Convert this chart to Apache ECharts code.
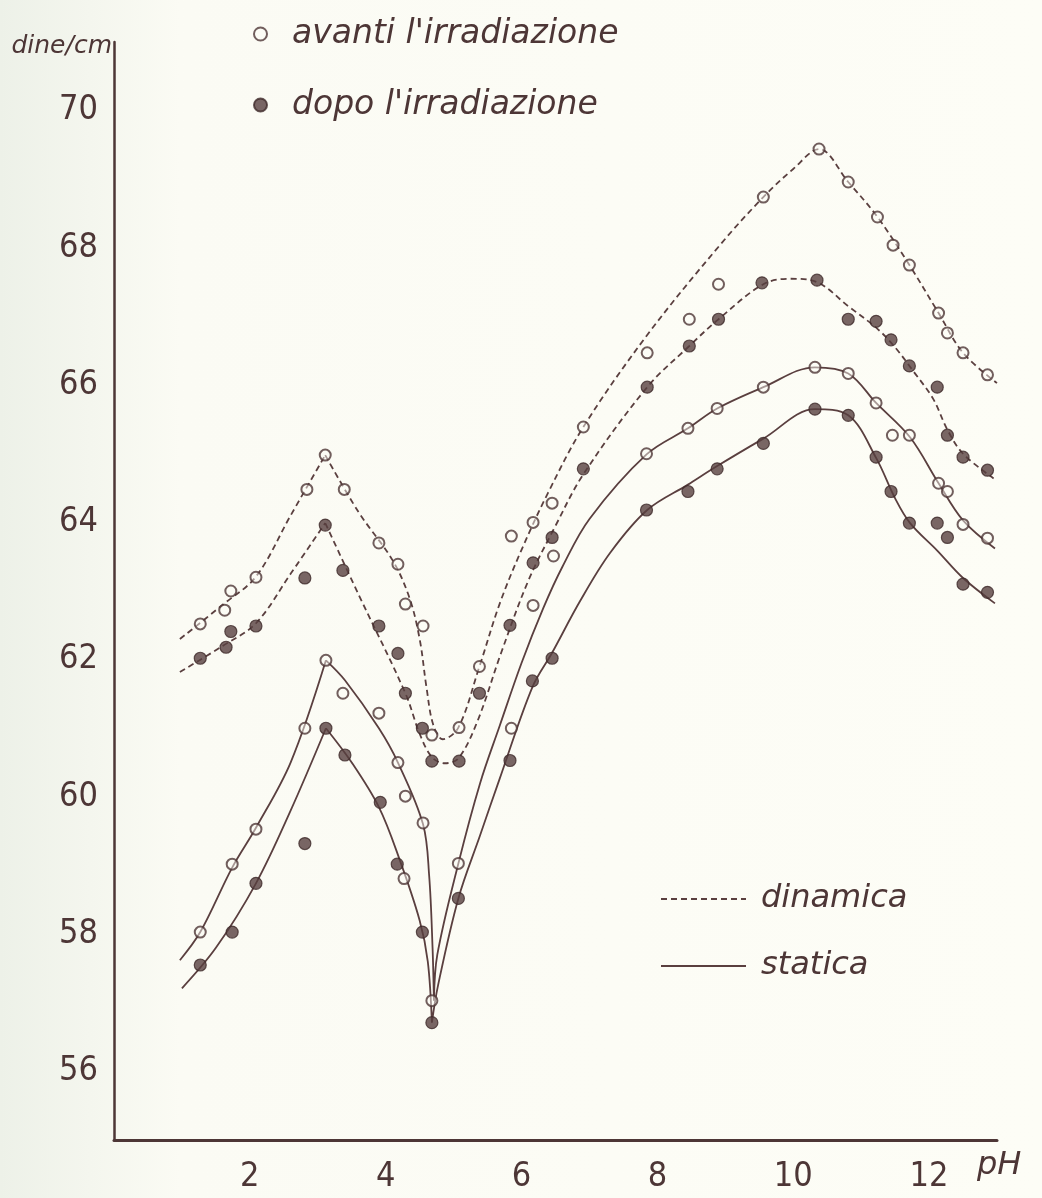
<!DOCTYPE html>
<html>
<head>
<meta charset="utf-8">
<script src="https://cdn.jsdelivr.net/npm/echarts@6/dist/echarts.min.js"></script>
<style>
  html, body { margin: 0; padding: 0; }
  body {
    width: 1042px; height: 1198px; overflow: hidden;
    background: linear-gradient(to right, #edf1e8 0px, #f4f6ee 90px, #fbfbf4 180px, #fdfdf6 100%);
  }
  #chart { width: 1042px; height: 1198px; }
</style>
</head>
<body>
<div id="chart"></div>
<script>
// ---- tick labels ----
const xTicks = [2, 4, 6, 8, 10, 12];
const yTicks = [56, 58, 60, 62, 64, 66, 68, 70];

// ---- measured points: [pH, dine/cm] ----
// open circles: avanti l'irradiazione
const avantiDinamica = [
  [1.27,62.52],[1.63,62.72],[1.72,63.0],[2.09,63.2],[2.84,64.48],[3.11,64.98],[3.39,64.48],
  [3.90,63.7],[4.18,63.39],[4.29,62.81],[4.55,62.49],[4.68,60.9],[5.08,61.01],[5.38,61.9],
  [5.85,63.8],[6.17,64.0],[6.45,64.28],[6.91,65.39],[7.85,66.47],[8.47,66.96],[8.90,67.47],
  [9.56,68.74],[10.38,69.44],[10.81,68.96],[11.24,68.45],[11.47,68.04],[11.71,67.75],
  [12.14,67.05],[12.27,66.76],[12.50,66.47],[12.86,66.15]
];
const avantiStatica = [
  [1.27,58.03],[1.74,59.02],[2.09,59.53],[2.81,61.0],[3.12,61.99],[3.37,61.51],[3.90,61.22],
  [4.18,60.5],[4.29,60.01],[4.55,59.62],[4.27,58.81],[4.68,57.03],[5.07,59.03],[5.85,61.0],
  [6.17,62.79],[6.47,63.51],[7.84,65.0],[8.45,65.37],[8.88,65.66],[9.56,65.97],[10.32,66.26],
  [10.81,66.17],[11.22,65.74],[11.46,65.27],[11.71,65.27],[12.14,64.57],[12.27,64.45],
  [12.50,63.97],[12.86,63.77]
];
// filled circles: dopo l'irradiazione
const dopoDinamica = [
  [1.27,62.02],[1.65,62.18],[1.72,62.41],[2.09,62.49],[2.81,63.19],[3.11,63.96],[3.37,63.3],
  [3.90,62.49],[4.18,62.09],[4.29,61.51],[4.54,61.0],[4.68,60.52],[5.08,60.52],[5.38,61.51],
  [5.83,62.5],[6.17,63.41],[6.45,63.78],[6.91,64.78],[7.85,65.97],[8.47,66.57],[8.90,66.96],
  [9.54,67.49],[10.35,67.53],[10.81,66.96],[11.22,66.93],[11.44,66.66],[11.71,66.28],
  [12.12,65.97],[12.27,65.27],[12.50,64.95],[12.86,64.76]
];
const dopoStatica = [
  [1.27,57.55],[1.74,58.03],[2.09,58.74],[2.81,59.32],[3.12,61.0],[3.40,60.61],[3.92,59.92],
  [4.17,59.02],[4.54,58.03],[4.68,56.71],[5.07,58.52],[5.83,60.53],[6.16,61.69],[6.45,62.02],
  [7.84,64.18],[8.45,64.45],[8.88,64.78],[9.56,65.15],[10.32,65.65],[10.81,65.56],[11.22,64.95],
  [11.44,64.45],[11.71,63.99],[12.12,63.99],[12.27,63.78],[12.50,63.1],[12.86,62.98]
];

// ---- hand-drawn fitted curves (traced), with their pointed corners (pH) ----
const curveDinamicaAvanti = [
  [0.97,62.3],[1.6,62.8],[2.09,63.21],[2.6,64.1],[3.11,64.98],
  [3.6,64.15],[4.1,63.45],[4.35,62.9],[4.5,62.3],[4.6,61.6],[4.7,61.05],[4.84,60.84],[5.07,61.01],
  [5.38,61.9],[5.68,62.82],[6.0,63.6],[6.39,64.43],[6.91,65.39],[7.85,66.73],[8.92,68.04],
  [9.56,68.74],[10.0,69.15],[10.38,69.44],[10.81,68.96],[11.24,68.45],[11.71,67.75],
  [12.14,67.05],[12.5,66.47],[13.0,66.03]
];
const cornersDinamicaAvanti = [3.11];
const curveDinamicaDopo = [
  [0.97,61.82],[1.6,62.2],[2.09,62.53],[2.6,63.25],[3.11,63.99],
  [3.6,62.95],[4.29,61.51],[4.5,60.92],[4.68,60.58],[4.87,60.49],[5.07,60.56],
  [5.35,61.1],[5.7,62.1],[6.1,63.15],[6.5,63.95],[6.91,64.7],[7.85,65.97],[8.47,66.57],
  [8.9,66.96],[9.56,67.47],[9.96,67.55],[10.35,67.5],[10.81,67.15],[11.24,66.82],[11.5,66.55],
  [11.77,66.2],[12.06,65.8],[12.27,65.35],[12.5,65.0],[12.95,64.64]
];
const cornersDinamicaDopo = [3.11];
const curveStaticaAvanti = [
  [0.97,57.62],[1.27,58.03],[1.74,58.97],[2.09,59.55],[2.6,60.5],[3.12,61.99],
  [3.4,61.7],[3.9,61.0],[4.18,60.5],[4.55,59.6],[4.64,58.85],[4.69,57.8],[4.71,57.03],
  [4.76,57.7],[5.07,59.03],[5.39,60.2],[5.68,61.04],[6.0,61.95],[6.32,62.75],[6.6,63.35],
  [7.0,64.05],[7.84,64.99],[8.45,65.37],[8.88,65.66],[9.56,65.97],[10.32,66.26],[10.81,66.17],
  [11.22,65.74],[11.72,65.24],[12.14,64.57],[12.5,64.03],[12.97,63.62]
];
const cornersStaticaAvanti = [3.12, 4.71];
const curveStaticaDopo = [
  [1.0,57.21],[1.5,57.8],[2.09,58.74],[2.6,59.8],[3.12,61.0],
  [3.5,60.5],[3.9,59.85],[4.2,59.1],[4.5,58.2],[4.62,57.6],[4.68,56.71],
  [4.77,57.25],[5.07,58.52],[5.39,59.44],[5.68,60.27],[6.16,61.6],[6.45,62.1],[6.86,62.85],
  [7.3,63.55],[7.85,64.18],[8.45,64.55],[8.88,64.82],[9.56,65.22],[10.32,65.65],[10.81,65.56],
  [11.22,64.94],[11.5,64.35],[11.72,63.99],[12.12,63.59],[12.5,63.19],[12.97,62.82]
];
const cornersStaticaDopo = [3.12, 4.68];

const INK = '#4d3636';
const LINE = '#5a3f3f';
const HAND = '"DejaVu Sans", "Liberation Sans", sans-serif';
const TICK = '"Liberation Sans Narrow", "DejaVu Sans Condensed", sans-serif';

// break the smoothed line at pointed corners (the corner point is repeated)
function withCorners(data, corners) {
  const out = [];
  data.forEach(p => {
    out.push(p);
    if (corners.includes(p[0])) { out.push('-'); out.push(p); }
  });
  return out;
}

function curve(name, data, corners, dashed) {
  return {
    type: 'line', name: name, data: withCorners(data, corners), symbol: 'none',
    smooth: 0.35, connectNulls: false, z: 2, silent: true,
    lineStyle: { color: LINE, width: 1.8, type: dashed ? [6, 4] : 'solid' },
    itemStyle: { color: 'rgba(0,0,0,0)', opacity: 0 }
  };
}

const chart = echarts.init(document.getElementById('chart'), null, { renderer: 'canvas' });

chart.setOption({
  animation: false,
  backgroundColor: 'transparent',
  grid: { left: 114, right: 45, top: 42, bottom: 58, containLabel: false },
  legend: [
    {
      data: ["avanti l'irradiazione", "dopo l'irradiazione"],
      orient: 'vertical', left: 248, top: 11, itemWidth: 13, itemHeight: 13, itemGap: 35,
      selectedMode: false, icon: 'circle',
      textStyle: { fontFamily: HAND, fontStyle: 'italic', fontWeight: 200, fontSize: 33,
                   lineHeight: 36, color: INK, padding: [0, 0, 0, 20] }
    },
    {
      data: ['dinamica', 'statica'],
      orient: 'vertical', left: 655, top: 876, itemWidth: 85, itemHeight: 14, itemGap: 31,
      selectedMode: false,
      itemStyle: { opacity: 0 },
      textStyle: { fontFamily: HAND, fontStyle: 'italic', fontWeight: 200, fontSize: 32,
                   lineHeight: 36, color: INK, padding: [0, 0, 0, 10] }
    }
  ],
  xAxis: {
    type: 'value', min: 0, max: 13, interval: 1,
    name: 'pH', nameLocation: 'end', nameGap: -20,
    nameTextStyle: { fontFamily: HAND, fontStyle: 'italic', fontWeight: 200, fontSize: 32,
                     color: INK, align: 'left', verticalAlign: 'top', padding: [10, 0, 0, 0] },
    axisLine: { show: true, lineStyle: { color: INK, width: 3 } },
    axisTick: { show: false },
    splitLine: { show: false },
    axisLabel: {
      margin: 20, fontFamily: TICK, fontSize: 34, color: INK,
      formatter: v => xTicks.includes(v) ? String(v) : ''
    }
  },
  yAxis: {
    type: 'value', min: 55, max: 71, interval: 1,
    name: 'dine/cm', nameLocation: 'end', nameGap: -4,
    nameTextStyle: { fontFamily: HAND, fontStyle: 'italic', fontWeight: 200, fontSize: 25,
                     color: INK, align: 'right', verticalAlign: 'middle', padding: [0, 2, 0, 0] },
    axisLine: { show: true, lineStyle: { color: INK, width: 2.5 } },
    axisTick: { show: false },
    splitLine: { show: false },
    axisLabel: {
      margin: 16, fontFamily: TICK, fontSize: 34, color: INK,
      formatter: v => yTicks.includes(v) ? String(v) : ''
    }
  },
  series: [
    curve('dinamica', curveDinamicaAvanti, cornersDinamicaAvanti, true),
    curve('dinamica', curveDinamicaDopo, cornersDinamicaDopo, true),
    curve('statica', curveStaticaAvanti, cornersStaticaAvanti, false),
    curve('statica', curveStaticaDopo, cornersStaticaDopo, false),
    {
      type: 'scatter', name: "avanti l'irradiazione", z: 5, silent: true,
      data: avantiDinamica.concat(avantiStatica), symbol: 'circle', symbolSize: 11,
      itemStyle: { color: 'rgba(253,253,246,0.6)', borderColor: INK, borderWidth: 2 }
    },
    {
      type: 'scatter', name: "dopo l'irradiazione", z: 5, silent: true,
      data: dopoDinamica.concat(dopoStatica), symbol: 'circle', symbolSize: 12,
      itemStyle: { color: '#574040', borderColor: '#3d2929', borderWidth: 1.2 }
    }
  ]
});
</script>
</body>
</html>
